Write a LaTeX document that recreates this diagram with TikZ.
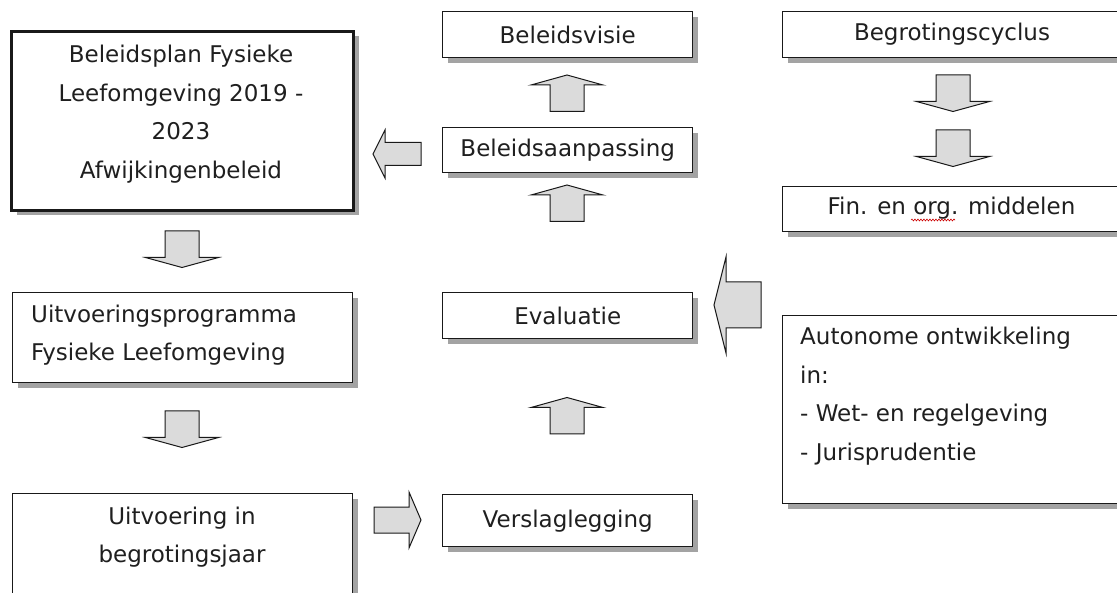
\documentclass[tikz,border=0pt]{standalone}
\usepackage{fontspec}
\setmainfont{DejaVu Sans}
\usetikzlibrary{shadows,decorations.pathmorphing}
\begin{document}
\begin{tikzpicture}[x=1pt,y=-1pt,
  txt/.style={font=\fontsize{23}{38.5}\selectfont, text=black!88, inner sep=0pt},
  box/.style={draw=black!90, line width=1.4pt, fill=white, inner sep=0pt, anchor=north west,
     drop shadow={shadow xshift=5pt, shadow yshift=-5pt, fill=black!40, opacity=0.9}},
  thickbox/.style={box, line width=3pt},
  blk/.style={draw=black!90, line width=1pt, fill=black!14, line join=miter},
  downarr/.pic={\path[blk] (-17,0) -- (17,0) -- (17,26.5) -- (36.5,26.5) -- (0,36.5) -- (-36.5,26.5) -- (-17,26.5) -- cycle;},
  uparr/.pic={\path[blk] (0,0) -- (36,10) -- (17,10) -- (17,36.5) -- (-17,36.5) -- (-17,10) -- (-36,10) -- cycle;}]
\useasboundingbox (0,0) rectangle (1117,593);
\clip (0,0) rectangle (1117,593);
\fill[white] (0,0) rectangle (1117,593);

% boxes
\node[thickbox, minimum width=342, minimum height=179] (plan) at (10,30) {};
\node[txt, align=center] (planT) at (181,114) {Beleidsplan Fysieke\\Leefomgeving 2019 -\\2023\\Afwijkingenbeleid};

\node[box, minimum width=340, minimum height=90] (prog) at (12,292) {};
\node[txt, align=left, anchor=west] (progT) at (31,335) {Uitvoeringsprogramma\\Fysieke Leefomgeving};

\node[box, minimum width=340, minimum height=140] (uitv) at (12,493) {};
\node[txt, align=center] (uitvT) at (182,537) {Uitvoering in\\begrotingsjaar};

\node[box, minimum width=250, minimum height=46] (visie) at (442,11) {};
\node[txt] (visieT) at (visie.center) {Beleidsvisie};

\node[box, minimum width=250, minimum height=45] (aanp) at (442,127) {};
\node[txt] (aanpT) at (aanp.center) {Beleidsaanpassing};

\node[box, minimum width=250, minimum height=46] (eval) at (442,292) {};
\node[txt] (evalT) at (eval.center) {Evaluatie};

\node[box, minimum width=250, minimum height=52] (versl) at (442,494) {};
\node[txt] (verslT) at (versl.center) {Verslaglegging};

\node[box, minimum width=360, minimum height=46] (cyclus) at (782,11) {};
\node[txt] (cyclusT) at (952,34) {Begrotingscyclus};

\node[box, minimum width=360, minimum height=45] (midd) at (782,186) {};
\node[txt] (middT) at (951.5,208.5) {Fin. en org. middelen};
\draw[red!80!black, line width=0.6pt, decorate, decoration={snake, amplitude=0.9pt, segment length=3pt}] (911,220) -- (955,220);

\node[box, minimum width=360, minimum height=188] (auto) at (782,315) {};
\node[txt, align=left, anchor=west] (autoT) at (800,396) {Autonome ontwikkeling\\in:\\- Wet- en regelgeving\\- Jurisprudentie};

% block arrows
\pic at (567,75) {uparr};
\pic at (567,185) {uparr};
\pic at (567,397.5) {uparr};
\pic at (182,231) {downarr};
\pic at (182,411) {downarr};
\pic at (953,75) {downarr};
\pic at (953,130) {downarr};

% left arrow: aanpassing -> plan
\path[blk] (373,154) -- (385,130) -- (385,142.5) -- (421,142.5) -- (421,165.5) -- (385,165.5) -- (385,178) -- cycle;
% big left arrow: auto -> eval
\path[blk] (714,305) -- (726,257) -- (726,282) -- (761,282) -- (761,328) -- (726,328) -- (726,353) -- cycle;
% right arrow: uitv -> versl
\path[blk] (421,520) -- (409,492) -- (409,507) -- (374,507) -- (374,533) -- (409,533) -- (409,548) -- cycle;
\end{tikzpicture}
\end{document}
